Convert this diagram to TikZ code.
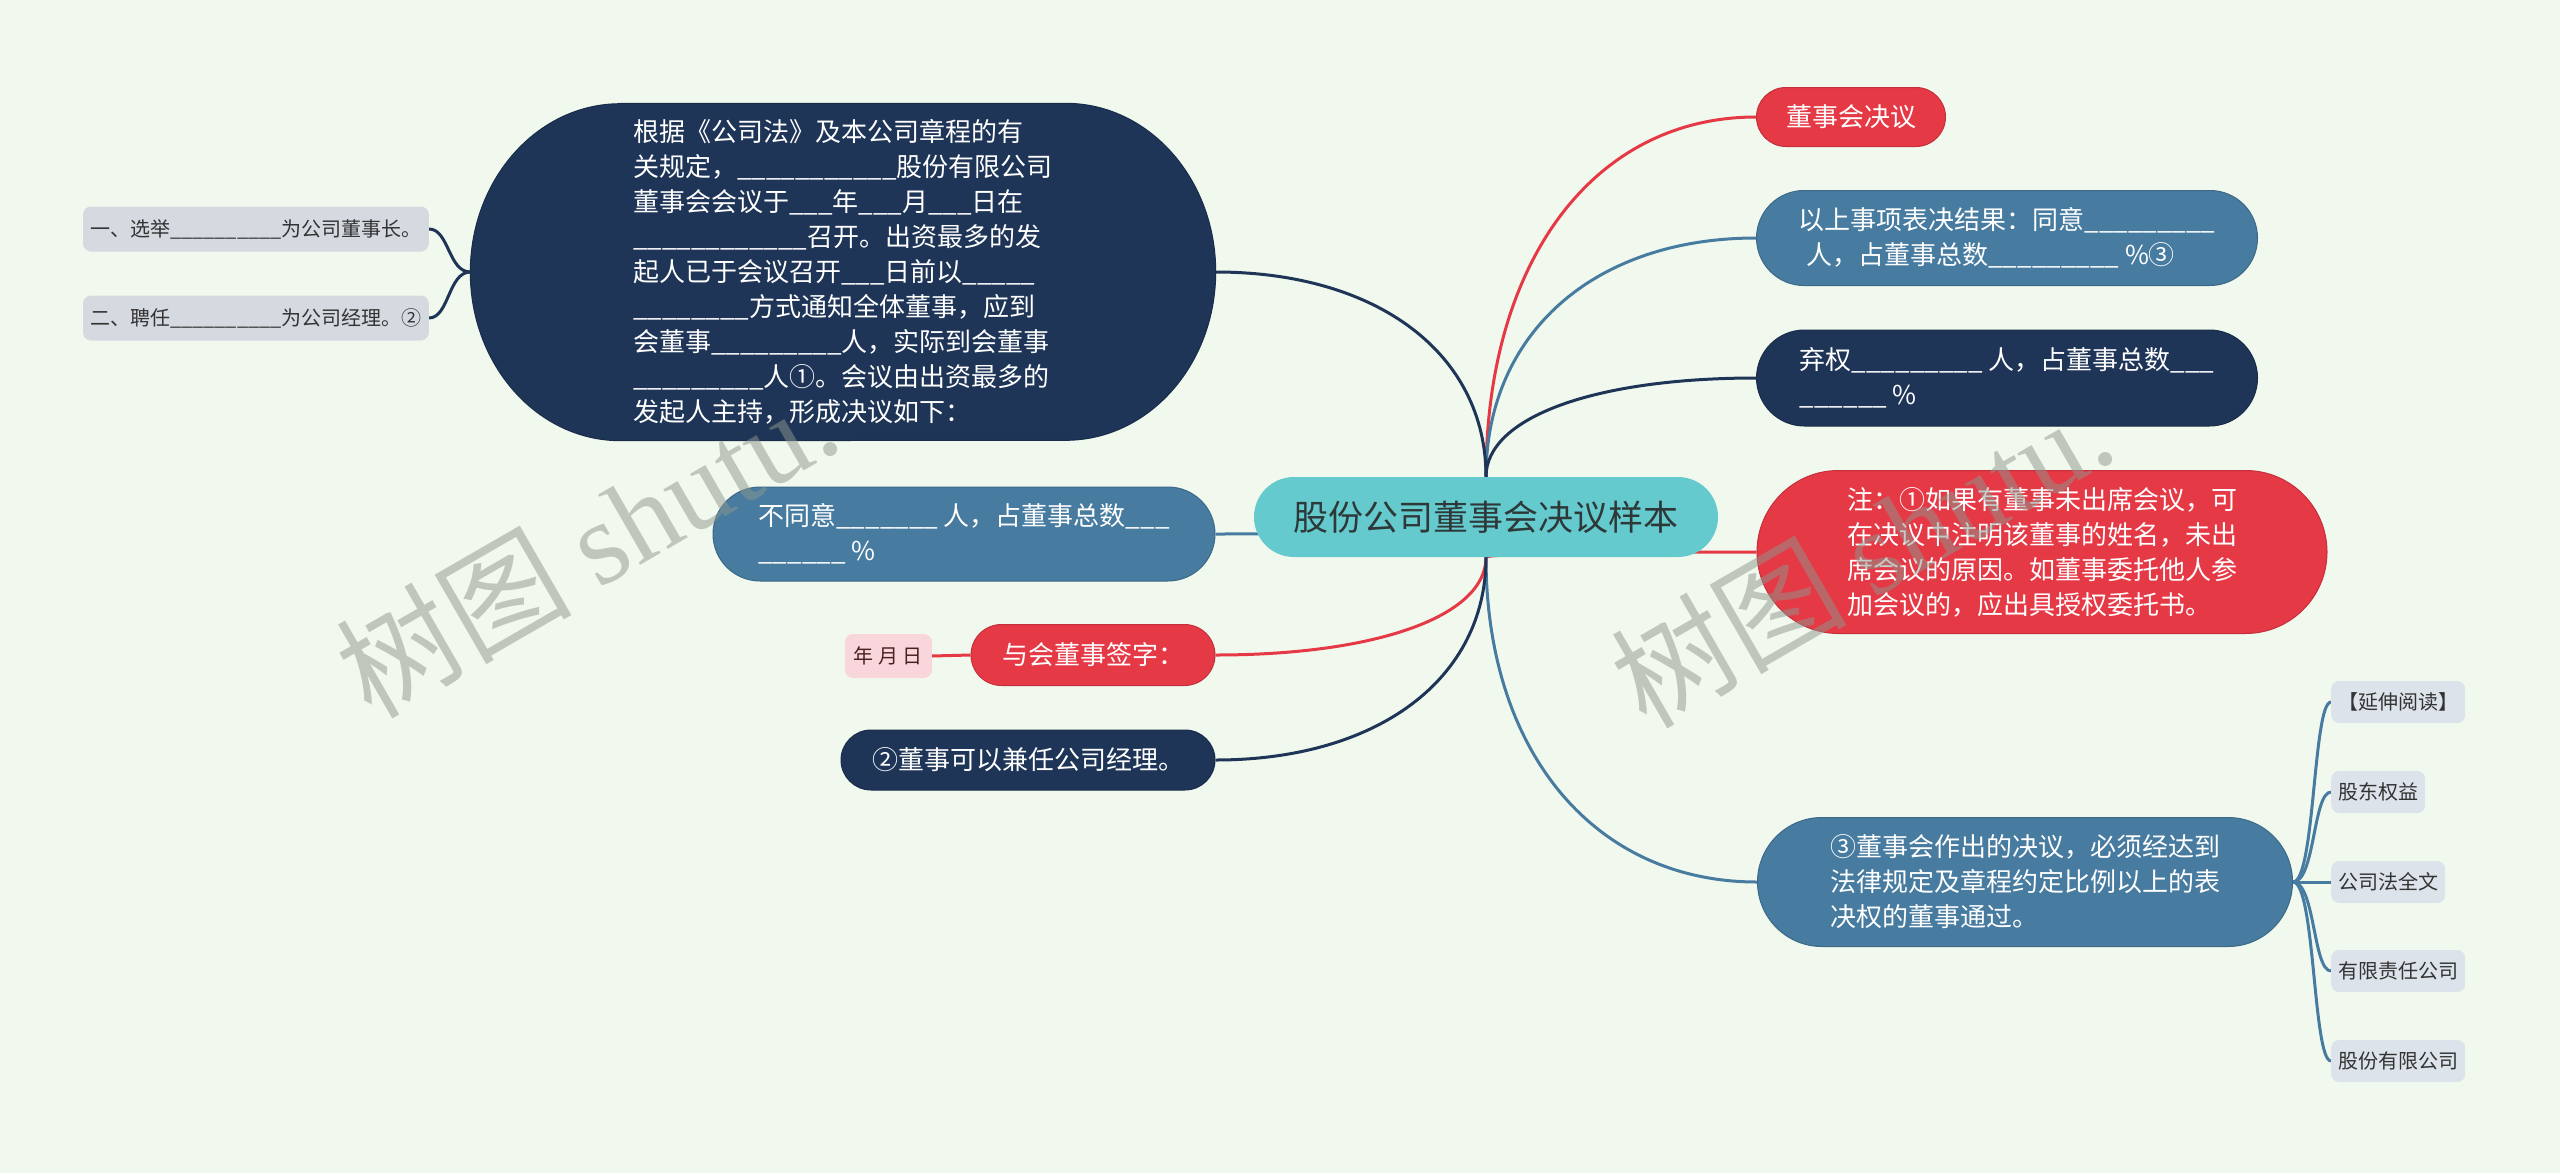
\documentclass[tikz,border=0pt]{standalone}
\usepackage{fontspec}
\setmainfont{Noto Sans CJK SC}
\newfontfamily\wmserif{Liberation Serif}
\usetikzlibrary{shapes.misc,calc}
\definecolor{bgc}{HTML}{F1F9EE}
\definecolor{navy}{HTML}{1E3557}
\definecolor{bluec}{HTML}{477BA0}
\definecolor{redc}{HTML}{E63946}
\definecolor{tealc}{HTML}{64CACD}
\definecolor{graysm}{HTML}{D5DAE1}
\definecolor{graysr}{HTML}{DCE3EA}
\definecolor{pinkc}{HTML}{F9D6DC}
\definecolor{darktxt}{HTML}{2E3838}
\definecolor{smtxt}{HTML}{333333}
\definecolor{pinktxt}{HTML}{4A2020}
\definecolor{wmgray}{HTML}{8E978E}
\pgfdeclarelayer{bglayer}
\pgfdeclarelayer{edgelayer}
\pgfdeclarelayer{shapelayer}
\pgfdeclarelayer{fglayer}
\pgfsetlayers{bglayer,edgelayer,shapelayer,main,fglayer}
\ExplSyntaxOn
\cs_new:Npn \blanks #1 {\prg_replicate:nn {#1} {\textunderscore}}
\ExplSyntaxOff
\newcommand\mmedge[3]{\draw[#1] let \p1=(#2), \p2=(#3) in (\p1) .. controls (\x1,{\y1+0.6*(\y2-\y1)}) and ({\x1+0.4*(\x2-\x1)},\y2) .. (\p2);}
\begin{document}
\begin{tikzpicture}[x=1pt,y=-1pt,
  pill/.style={rounded rectangle, inner sep=0pt, align=left, text=white, font=\fontsize{26}{35}\selectfont},
  navynode/.style={pill, fill=navy, draw=navy!85!black, line width=1pt},
  bluenode/.style={pill, fill=bluec, draw=bluec!85!black, line width=1pt},
  rednode/.style={pill, fill=redc, draw=redc!85!black, line width=1pt},
  smallnode/.style={rectangle, rounded corners=8pt, inner xsep=7pt, inner ysep=0pt, minimum height=42pt, text=smtxt, font=\fontsize{20}{24}\selectfont},
  navyline/.style={draw=navy, line width=3pt},
  blueline/.style={draw=bluec, line width=3pt},
  redline/.style={draw=redc, line width=3pt},
  wm/.style={rotate=30, text=wmgray, text opacity=0.5, font=\fontsize{118}{118}\selectfont, inner sep=0pt}
]
\begin{pgfonlayer}{bglayer}
\fill[bgc] (0,0) rectangle (2560,1173);
\end{pgfonlayer}
\useasboundingbox (0,0) rectangle (2560,1173);

% root
\node[pill, fill=tealc, text=darktxt, minimum width=464pt, minimum height=80pt, font=\fontsize{35}{40}\selectfont] (root) at (1486,517) {股份公司董事会决议样本};

% right side
\node[rednode, minimum width=189pt, minimum height=59pt] (r1) at (1851,117) {董事会决议};
\node[bluenode, minimum width=501pt, minimum height=95pt] (r2) at (2007,238) {以上事项表决结果：同意\blanks{9}\\\hspace*{0.3em}人，占董事总数\blanks{9} \%③};
\node[navynode, minimum width=501pt, minimum height=96pt] (r3) at (2007,378) {弃权\blanks{9} 人，占董事总数\blanks{3}\\\blanks{6} \%};
\node[rednode, minimum width=570pt, minimum height=163pt] (r4) at (2042,552) {注：①如果有董事未出席会议，可\\在决议中注明该董事的姓名，未出\\席会议的原因。如董事委托他人参\\加会议的，应出具授权委托书。};
\node[bluenode, minimum width=535pt, minimum height=129pt] (r5) at (2025,882) {③董事会作出的决议，必须经达到\\法律规定及章程约定比例以上的表\\决权的董事通过。};

\node[smallnode, fill=graysr, anchor=west] (s1) at (2331,702) {【延伸阅读】};
\node[smallnode, fill=graysr, anchor=west] (s2) at (2331,792) {股东权益};
\node[smallnode, fill=graysr, anchor=west] (s3) at (2331,882) {公司法全文};
\node[smallnode, fill=graysr, anchor=west] (s4) at (2331,971) {有限责任公司};
\node[smallnode, fill=graysr, anchor=west] (s5) at (2331,1061) {股份有限公司};

% left side
\node[rectangle, inner sep=0pt, align=left, text=white, font=\fontsize{26}{35}\selectfont, minimum width=745pt, minimum height=337pt] (L) at (843,272) {根据《公司法》及本公司章程的有\\关规定，\blanks{11}股份有限公司\\董事会会议于\blanks{3}年\blanks{3}月\blanks{3}日在\\\blanks{12}召开。出资最多的发\\起人已于会议召开\blanks{3}日前以\blanks{5}\\\blanks{8}方式通知全体董事，应到\\会董事\blanks{9}人，实际到会董事\\\blanks{9}人①。会议由出资最多的\\发起人主持，形成决议如下：};
\begin{pgfonlayer}{shapelayer}
\filldraw[fill=navy, draw=navy!85!black, line width=1pt]
  ([xshift=150pt]L.north west) -- ([xshift=-150pt]L.north east)
  arc[start angle=90, end angle=-90, x radius=150pt, y radius=168.5pt]
  -- ([xshift=150pt]L.south west)
  arc[start angle=270, end angle=90, x radius=150pt, y radius=168.5pt] -- cycle;
\end{pgfonlayer}
\node[smallnode, fill=graysm, anchor=east, minimum height=45pt] (l1) at (429,229) {一、选举\blanks{10}为公司董事长。};
\node[smallnode, fill=graysm, anchor=east, minimum height=45pt] (l2) at (429,318) {二、聘任\blanks{10}为公司经理。②};

\node[bluenode, minimum width=502pt, minimum height=94pt] (n1) at (964,534) {不同意\blanks{7} 人，占董事总数\blanks{3}\\\blanks{6} \%};
\node[rednode, minimum width=244pt, minimum height=61pt] (n2) at (1093,655) {与会董事签字：};
\node[smallnode, fill=pinkc, text=pinktxt, anchor=east, minimum height=44pt, inner xsep=9pt] (n3) at (932,656) {年 月 日};
\node[navynode, minimum width=374pt, minimum height=60pt] (n4) at (1028,760) {②董事可以兼任公司经理。};

% connectors
\begin{pgfonlayer}{edgelayer}
\mmedge{redline}{root.north}{r1.west}
\mmedge{blueline}{root.north}{r2.west}
\mmedge{navyline}{root.north}{r3.west}
\mmedge{redline}{root.south}{r4.west}
\mmedge{blueline}{root.south}{r5.west}
\mmedge{navyline}{root.north}{L.east}
\mmedge{blueline}{root.center}{n1.east}
\mmedge{redline}{root.south}{n2.east}
\mmedge{navyline}{root.south}{n4.east}
\draw[redline] (n2.west) -- (n3.east);
\foreach \s in {s1,s2,s3,s4,s5}{
  \draw[blueline] (r5.east) .. controls +(22,0) and +(-18,0) .. (\s.west);
}
\foreach \s in {l1,l2}{
  \draw[navyline] (L.west) .. controls +(-22,0) and +(20,0) .. (\s.east);
}
\end{pgfonlayer}

% watermarks
\begin{pgfonlayer}{fglayer}
\node[wm] (wm1) at (586,545) {树图 {\wmserif shutu.}};
\node[wm] (wm2) at (1861,555) {树图 {\wmserif shutu.}};
\end{pgfonlayer}
\end{tikzpicture}
\end{document}
